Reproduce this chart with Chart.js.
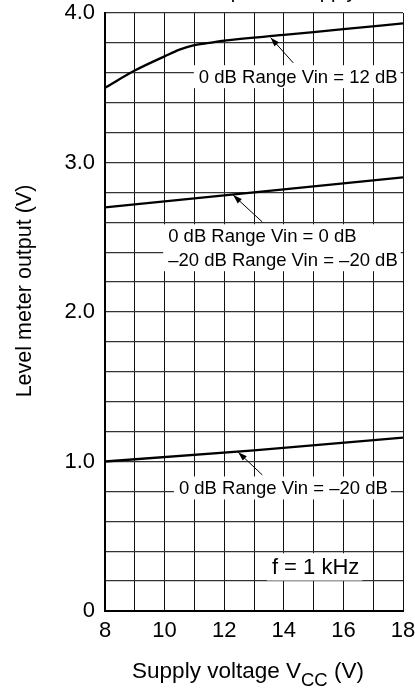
<!DOCTYPE html>
<html lang="en">
<head>
<meta charset="UTF-8">
<title>Level meter output vs. Supply voltage</title>
<script src="https://cdn.jsdelivr.net/npm/chart.js"></script>
<style>
  html, body { margin: 0; padding: 0; background: #fff; }
</style>
</head>
<body>
<canvas id="myChart" width="415" height="692"></canvas>
<script>
// curve values
const vcc12dB = [8, 9, 10, 10.5, 11, 11.5, 12, 14, 16, 18];
const out12dB = [3.50, 3.615, 3.71, 3.755, 3.785, 3.80, 3.815, 3.853, 3.892, 3.93];
const vcc0dB = [8, 13, 18];
const out0dB = [2.70, 2.80, 2.90];
const vccM20dB = [8, 13, 18];
const outM20dB = [1.00, 1.075, 1.16];
const xTickLabels = [8, 10, 12, 14, 16, 18];
const yTickLabels = [0, 1, 2, 3, 4];

const FONT = '"Liberation Sans", Arial, Helvetica, sans-serif';

// annotation labels (data coords of text left / first line centre, arrow start and tip)
const notes = [
    { lines: ['0 dB Range Vin = 12 dB'], x: 11.15, y: 3.574, size: 18.5, from: [14.32, 3.666], tip: [13.56, 3.835] },
    { lines: ['0 dB Range Vin = 0 dB', '\u201320 dB Range Vin = \u201320 dB'], x: 10.12, y: 2.51, size: 18.5, from: [13.28, 2.602], tip: [12.30, 2.782] },
    { lines: ['0 dB Range Vin = \u201320 dB'], x: 10.48, y: 0.823, size: 18.5, from: [13.28, 0.910], tip: [12.47, 1.062] },
    { lines: ['f = 1 kHz'], x: 13.6, y: 0.295, size: 22 }
];

function points(xs, ys) {
    return xs.map((x, i) => ({ x: x, y: ys[i] }));
}

function arrow(ctx, x1, y1, x2, y2) {
    ctx.beginPath();
    ctx.moveTo(x1, y1);
    ctx.lineTo(x2, y2);
    ctx.lineWidth = 1;
    ctx.stroke();
    const a = Math.atan2(y2 - y1, x2 - x1);
    const len = 9, w = 3;
    ctx.beginPath();
    ctx.moveTo(x2, y2);
    ctx.lineTo(x2 - len * Math.cos(a) + w * Math.sin(a), y2 - len * Math.sin(a) - w * Math.cos(a));
    ctx.lineTo(x2 - len * Math.cos(a) - w * Math.sin(a), y2 - len * Math.sin(a) + w * Math.cos(a));
    ctx.closePath();
    ctx.fill();
}

const extras = {
    id: 'extras',
    afterDatasetsDraw(chart) {
        const ctx = chart.ctx;
        const xs = chart.scales.x, ys = chart.scales.y;
        ctx.save();
        ctx.fillStyle = '#000';
        ctx.strokeStyle = '#000';
        notes.forEach(n => {
            ctx.font = n.size + 'px ' + FONT;
            const left = xs.getPixelForValue(n.x);
            const cy = ys.getPixelForValue(n.y);
            const gap = 24;
            let w = 0;
            n.lines.forEach(t => { w = Math.max(w, ctx.measureText(t).width); });
            const half = n.size * 0.62;
            ctx.fillStyle = '#fff';
            ctx.fillRect(left - 5, cy - half, w + 8, (n.lines.length - 1) * gap + 2 * half);
            ctx.fillStyle = '#000';
            if (n.from) {
                arrow(ctx, xs.getPixelForValue(n.from[0]), ys.getPixelForValue(n.from[1]),
                    xs.getPixelForValue(n.tip[0]), ys.getPixelForValue(n.tip[1]));
            }
            ctx.textAlign = 'left';
            ctx.textBaseline = 'middle';
            n.lines.forEach((t, i) => ctx.fillText(t, left, cy + i * gap + 1));
        });

        // cut-off title at the very top, only descenders show
        ctx.font = '20px ' + FONT;
        ctx.textBaseline = 'alphabetic';
        ctx.fillText('Level meter output vs. Supply', 93, -2.5);

        // y axis title
        ctx.save();
        ctx.translate(31, 291);
        ctx.rotate(-Math.PI / 2);
        ctx.textAlign = 'center';
        ctx.font = '21.5px ' + FONT;
        ctx.fillText('Level meter output (V)', 0, 0);
        ctx.restore();

        // x axis title with subscript
        const main = 'Supply voltage V', sub = 'CC', tail = ' (V)';
        ctx.font = '22.5px ' + FONT;
        const w1 = ctx.measureText(main).width, w3 = ctx.measureText(tail).width;
        ctx.font = '18.5px ' + FONT;
        const w2 = ctx.measureText(sub).width;
        let x0 = 248 - (w1 + w2 + w3) / 2;
        ctx.textAlign = 'left';
        ctx.font = '22.5px ' + FONT;
        ctx.fillText(main, x0, 678);
        ctx.font = '18.5px ' + FONT;
        ctx.fillText(sub, x0 + w1, 686);
        ctx.font = '22.5px ' + FONT;
        ctx.fillText(tail, x0 + w1 + w2, 678);
        ctx.restore();
    }
};

const lineStyle = {
    borderColor: '#000',
    borderWidth: 2.3,
    pointRadius: 0,
    fill: false
};

// keep the plot area fixed: no extra room for overflowing tick labels
function noOverflow(s) {
    s.paddingTop = 0;
    s.paddingBottom = 0;
    s.paddingLeft = 0;
    s.paddingRight = 0;
}

const ctx = document.getElementById('myChart').getContext('2d');
const myChart = new Chart(ctx, {
    type: 'line',
    data: {
        datasets: [
            Object.assign({ label: '0 dB Range Vin = 12 dB', data: points(vcc12dB, out12dB), cubicInterpolationMode: 'monotone' }, lineStyle),
            Object.assign({ label: '0 dB Range Vin = 0 dB', data: points(vcc0dB, out0dB) }, lineStyle),
            Object.assign({ label: '0 dB Range Vin = -20 dB', data: points(vccM20dB, outM20dB) }, lineStyle)
        ]
    },
    options: {
        responsive: false,
        animation: false,
        devicePixelRatio: 1,
        layout: { padding: { left: 0, right: 12, top: 13, bottom: 0 } },
        plugins: {
            legend: { display: false },
            tooltip: { enabled: false }
        },
        scales: {
            x: {
                type: 'linear',
                min: 8,
                max: 18,
                afterFit: s => { s.height = 81; noOverflow(s); },
                ticks: {
                    stepSize: 1,
                    autoSkip: false,
                    maxRotation: 0,
                    padding: 7,
                    color: '#000',
                    font: { family: FONT, size: 22 },
                    callback: v => xTickLabels.includes(v) ? String(v) : ''
                },
                grid: { color: '#111', lineWidth: 1, drawTicks: false },
                border: { color: '#000', width: 2 }
            },
            y: {
                min: 0,
                max: 4,
                afterFit: s => { s.width = 105; noOverflow(s); },
                ticks: {
                    stepSize: 0.2,
                    maxTicksLimit: 100,
                    autoSkip: false,
                    padding: 10,
                    color: '#000',
                    font: { family: FONT, size: 22 },
                    callback: v => {
                        const r = Math.round(v);
                        if (Math.abs(v - r) > 1e-6 || !yTickLabels.includes(r)) return '';
                        return r === 0 ? '0' : r.toFixed(1);
                    }
                },
                grid: { color: '#333', lineWidth: 1.3, drawTicks: false },
                border: { color: '#000', width: 2 }
            }
        }
    },
    plugins: [extras]
});
</script>
</body>
</html>
